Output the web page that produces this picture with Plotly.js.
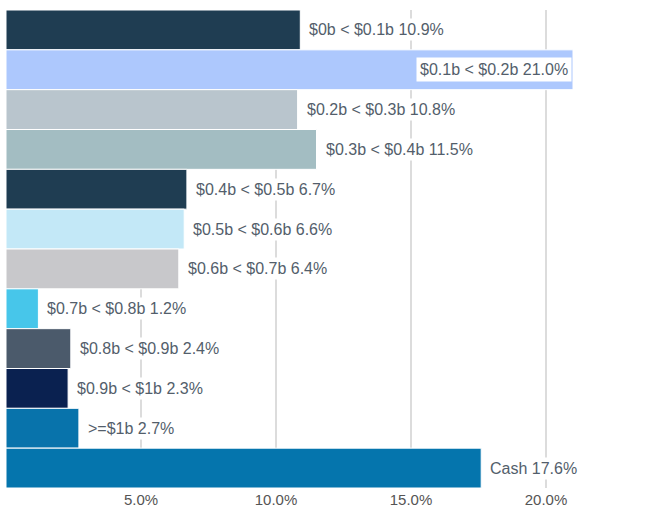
<!DOCTYPE html>
<html><head><meta charset="utf-8">
<script src="https://cdn.plot.ly/plotly-3.0.1.min.js"></script>
<style>html,body{margin:0;padding:0;background:#fff}</style>
</head><body>
<div id="chart" style="width:670px;height:509px"></div>
<script>
const categories = ["$0b < $0.1b","$0.1b < $0.2b","$0.2b < $0.3b","$0.3b < $0.4b","$0.4b < $0.5b","$0.5b < $0.6b","$0.6b < $0.7b","$0.7b < $0.8b","$0.8b < $0.9b","$0.9b < $1b",">=$1b","Cash"];
const values = [10.9, 21.0, 10.8, 11.5, 6.7, 6.6, 6.4, 1.2, 2.4, 2.3, 2.7, 17.6];
const colors = ["#1f3d52","#adc8fd","#b9c5cd","#a3bdc2","#1f3d52","#c3e8f7","#c8c8cb","#47c6ea","#4b5a6b","#0a2150","#0873ab","#0575ad"];
const tickVals = [5, 10, 15, 20];
const tickText = ["5.0%","10.0%","15.0%","20.0%"];
const xMax = 22;

const maxV = Math.max(...values);
const annotations = categories.map((c, i) => {
  const inside = values[i] === maxV;
  return {
    x: values[i], y: c, xref: 'x', yref: 'y',
    text: c + ' ' + values[i].toFixed(1) + '%',
    showarrow: false,
    xanchor: inside ? 'right' : 'left',
    xshift: inside ? -1 : 6,
    bgcolor: '#ffffff',
    borderpad: inside ? 3 : 2,
    font: {family: 'Liberation Sans, Arial, sans-serif', size: 16, color: '#535e6b'}
  };
});

Plotly.newPlot('chart', [{
  type: 'bar', orientation: 'h',
  y: categories, x: values,
  marker: {color: colors, line: {color: '#ffffff', width: 1}},
  hoverinfo: 'none'
}], {
  width: 670, height: 509,
  margin: {l: 6, r: 70, t: 10, b: 21},
  paper_bgcolor: '#fff', plot_bgcolor: '#fff',
  bargap: 0,
  showlegend: false,
  xaxis: {range: [0, xMax], tickvals: tickVals, ticktext: tickText,
    showgrid: true, gridcolor: '#dcdcdc', gridwidth: 2, zeroline: false, showline: false,
    ticks: '', ticklabelstandoff: 1,
    tickfont: {family: 'Liberation Sans, Arial, sans-serif', size: 15, color: '#555'}},
  yaxis: {type: 'category', autorange: 'reversed', showticklabels: false, showgrid: false, zeroline: false, showline: false, ticks: ''},
  annotations: annotations,
  hovermode: false
}, {displayModeBar: false, staticPlot: true});
</script>
</body></html>
